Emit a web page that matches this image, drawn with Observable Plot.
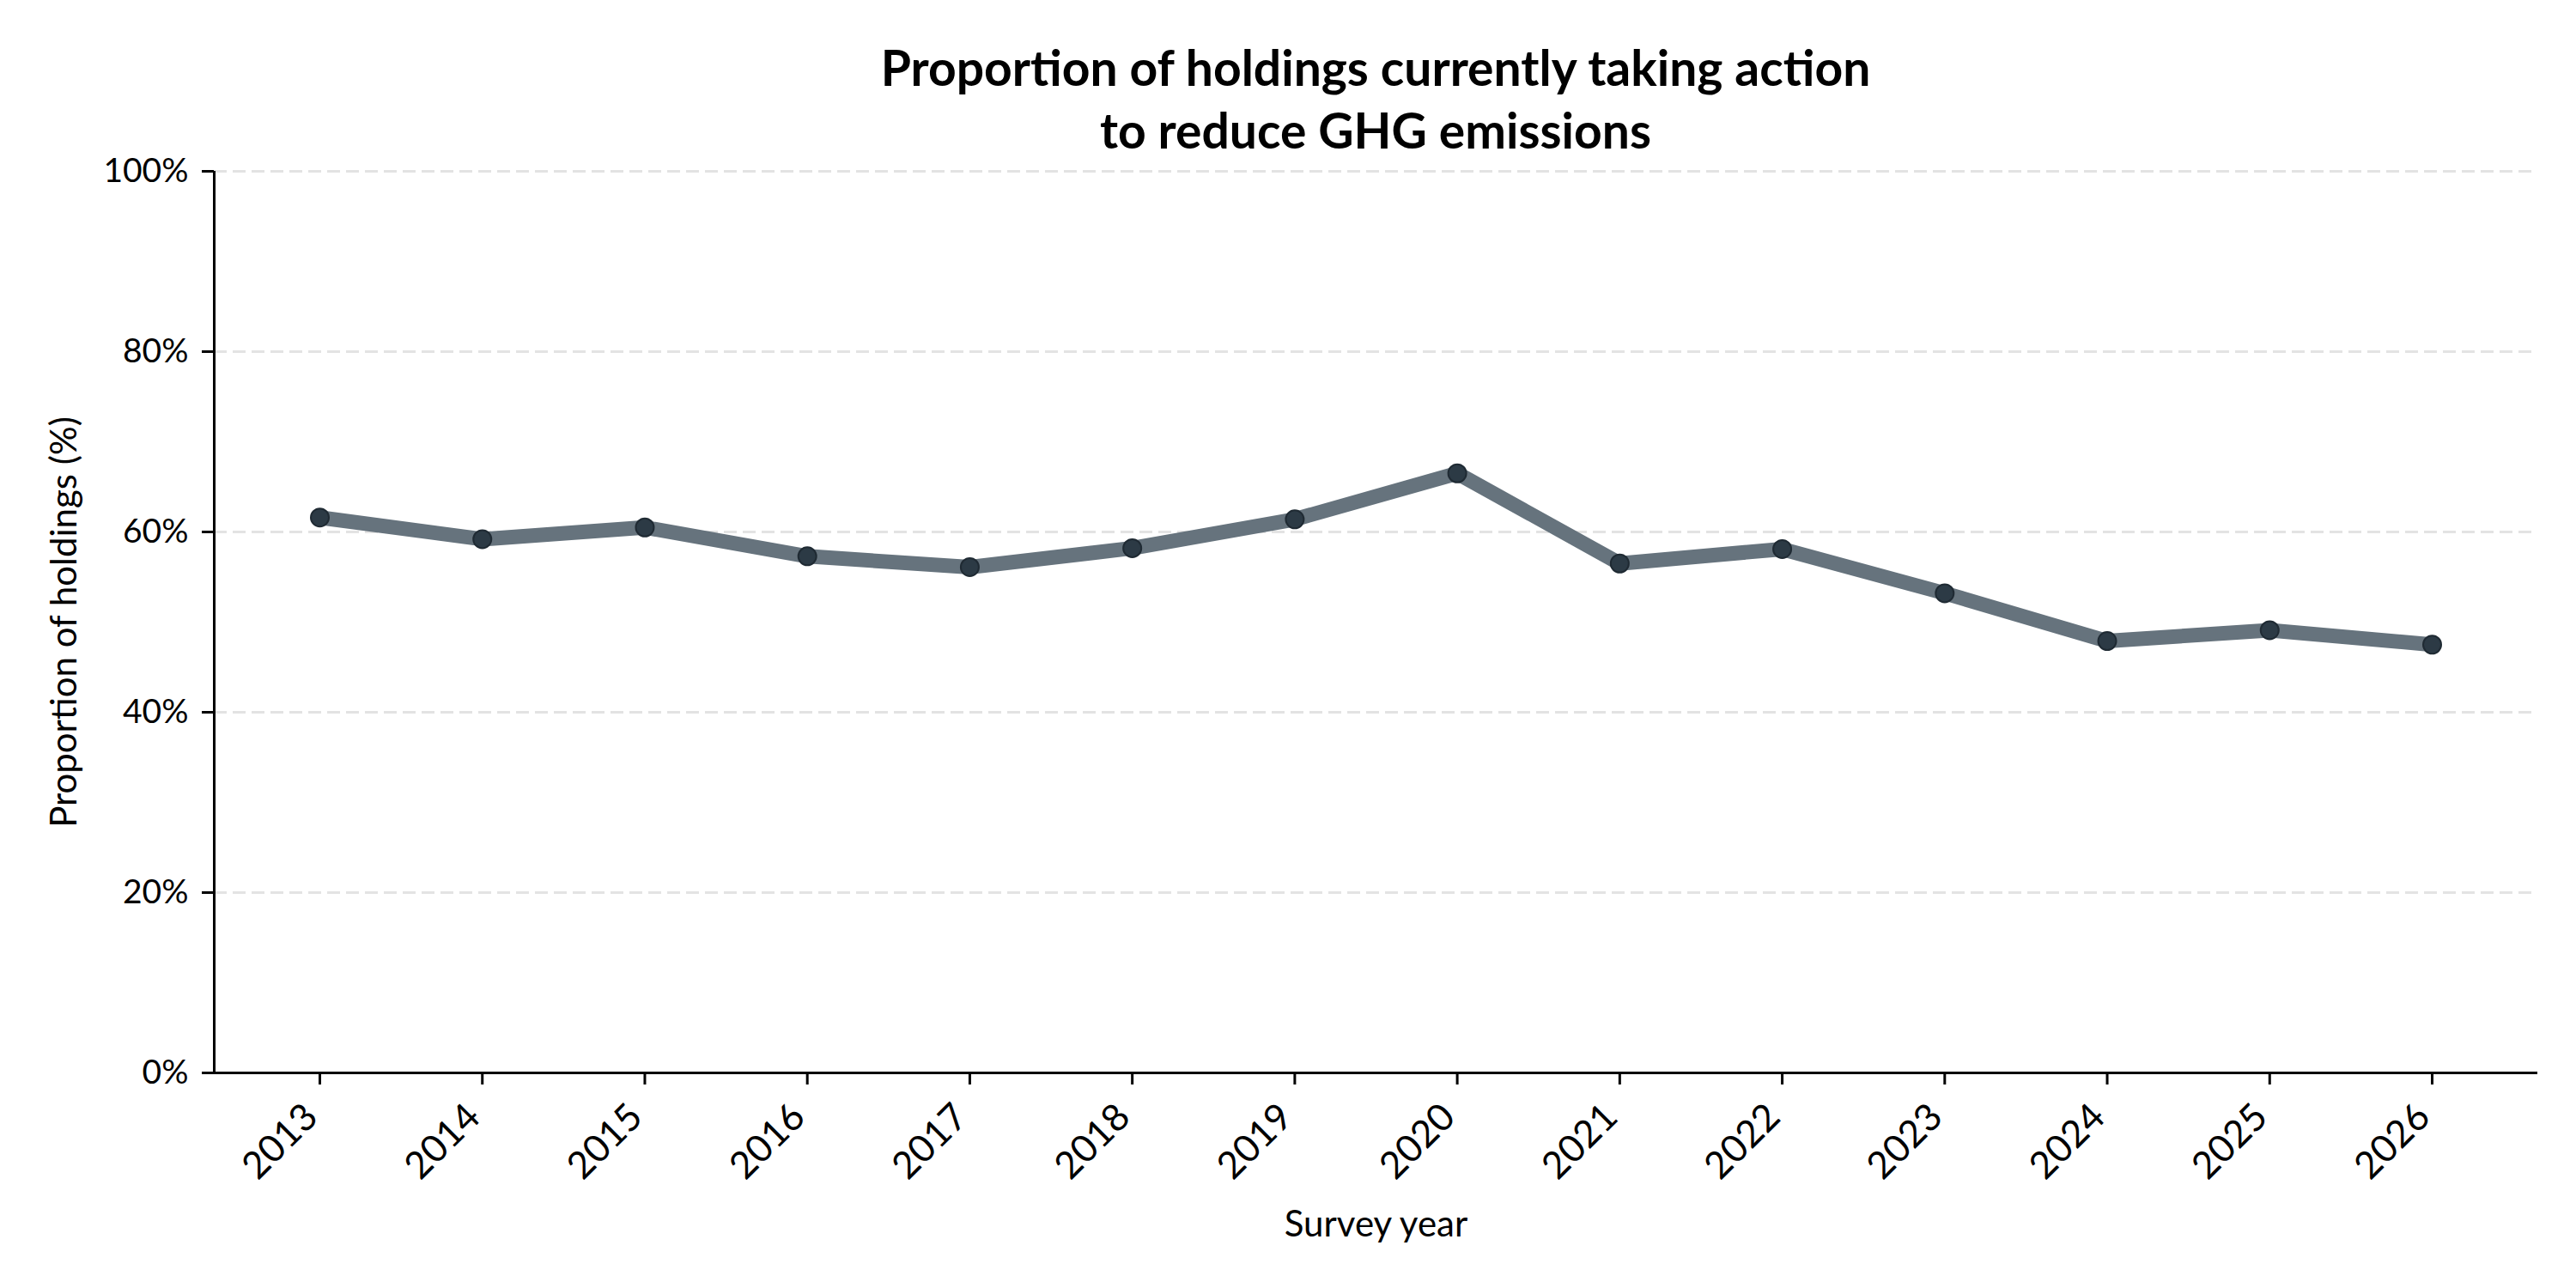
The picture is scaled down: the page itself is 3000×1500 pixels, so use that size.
<!DOCTYPE html>
<html>
<head>
<meta charset="utf-8">
<script src="https://cdn.jsdelivr.net/npm/d3@7"></script>
<script src="https://cdn.jsdelivr.net/npm/@observablehq/plot@0.6"></script>
<style>
  html, body { margin: 0; padding: 0; background: #fff; }
  #wrap { width: 3000px; height: 1500px; overflow: hidden; }
  #title {
    box-sizing: border-box;
    height: 150px;
    padding-top: 42px;
    padding-left: 249px;
    padding-right: 45px;
    width: 3000px;
    text-align: center;
    font-family: Lato, "Open Sans", sans-serif;
    font-weight: 700;
    font-size: 57px;
    line-height: 73px;
    color: #000;
    white-space: nowrap;
  }
</style>
</head>
<body>
<div id="wrap">
  <div id="title">Proportion of holdings currently taking action<br>to reduce GHG emissions</div>
  <div id="chart"></div>
</div>
<script>
const years = [2013, 2014, 2015, 2016, 2017, 2018, 2019, 2020, 2021, 2022, 2023, 2024, 2025, 2026];
const proportions = [61.6, 59.2, 60.5, 57.3, 56.1, 58.2, 61.4, 66.5, 56.5, 58.1, 53.2, 47.9, 49.1, 47.5];
const yTicks = [0, 20, 40, 60, 80, 100];

const data = years.map((year, i) => ({year, value: proportions[i]}));
const xDomain = [years[0] - 0.65, years[years.length - 1] + 0.65];

const plot = Plot.plot({
  width: 3000,
  height: 1350,
  marginTop: 49,
  marginBottom: 251,
  marginLeft: 249,
  marginRight: 45,
  style: {fontFamily: "Lato, 'Open Sans', sans-serif", fontSize: "39px", color: "#000", background: "#fff", overflow: "visible"},
  x: {domain: xDomain},
  y: {domain: [0, 100]},
  marks: [
    Plot.gridY(yTicks.filter(d => d > 0), {stroke: "#e3e3e3", strokeOpacity: 1, strokeWidth: 3, strokeDasharray: "15,7"}),
    Plot.axisY({ticks: yTicks, tickFormat: d => d + "%", tickSize: 14, tickPadding: 16, fontSize: 39, label: null, strokeWidth: 3}),
    Plot.axisY({ticks: [], label: "Proportion of holdings (%)", labelAnchor: "center", labelOffset: 190, labelArrow: "none", fontSize: 42}),
    Plot.axisX({ticks: years, tickFormat: () => "", tickSize: 14, label: null, strokeWidth: 3}),
    Plot.axisX({ticks: years, tickFormat: d => String(d), tickSize: 0, tickRotate: -45, tickPadding: 44, dx: -10, fontSize: 44, label: null}),
    Plot.axisX({ticks: [], label: "Survey year", labelAnchor: "center", labelOffset: 190, labelArrow: "none", fontSize: 42}),
    Plot.ruleY([0], {stroke: "#000", strokeWidth: 3}),
    Plot.ruleX([xDomain[0]], {stroke: "#000", strokeWidth: 3}),
    Plot.line(data, {x: "year", y: "value", stroke: "#66737d", strokeWidth: 17, strokeLinejoin: "round", strokeLinecap: "butt"}),
    Plot.dot(data, {x: "year", y: "value", r: 10.5, fill: "#2c3a45", stroke: "#1f2a33", strokeWidth: 2})
  ]
});
document.getElementById("chart").appendChild(plot);
</script>
</body>
</html>
